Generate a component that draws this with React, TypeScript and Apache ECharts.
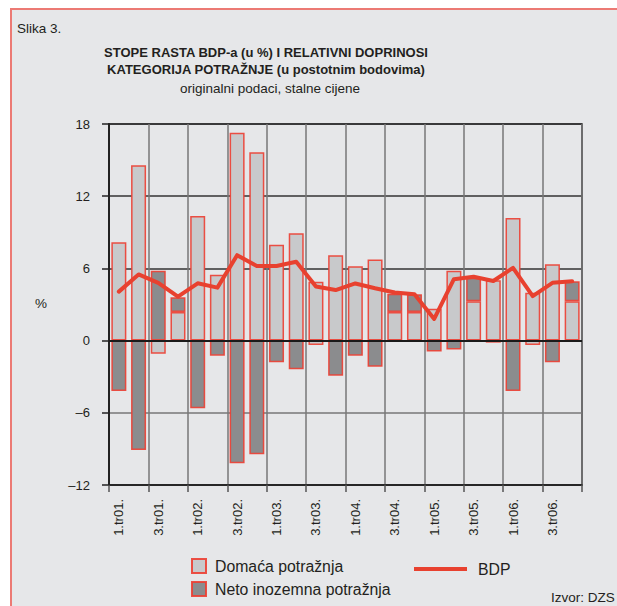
import React, { useEffect, useRef } from 'react';
import * as echarts from 'echarts';

const categories = [
  '1.tr01.', '2.tr01.', '3.tr01.', '4.tr01.',
  '1.tr02.', '2.tr02.', '3.tr02.', '4.tr02.',
  '1.tr03.', '2.tr03.', '3.tr03.', '4.tr03.',
  '1.tr04.', '2.tr04.', '3.tr04.', '4.tr04.',
  '1.tr05.', '2.tr05.', '3.tr05.', '4.tr05.',
  '1.tr06.', '2.tr06.', '3.tr06.', '4.tr06.',
];

const domesticDemand = [
  8.17, 14.57, -1.09, 2.38, 10.36, 5.48, 17.28, 15.65, 7.97, 8.92, 4.9, 7.09,
  6.17, 6.73, 2.38, 2.38, 2.65, 5.81, 3.27, 5.01, 10.19, 3.98, 6.34, 3.27,
];

const netForeignDemand = [
  -4.19, -9.1, 5.81, 1.22, -5.63, -1.25, -10.2, -9.45, -1.8, -2.39, -0.37, -2.92,
  -1.25, -2.17, 1.52, 1.47, -0.9, -0.73, 1.96, -0.17, -4.19, -0.37, -1.8, 1.66,
];

const gdp = [
  4.07, 5.5, 4.8, 3.65, 4.76, 4.4, 7.1, 6.2, 6.2, 6.55, 4.5, 4.2,
  4.75, 4.35, 4.0, 3.85, 1.8, 5.1, 5.3, 4.95, 6.05, 3.7, 4.8, 4.93,
];

const yMin = -12;
const yMax = 18;
const yStep = 6;

const FONT = '"Liberation Sans", Arial, Helvetica, sans-serif';
const TEXT = '#231f20';
const LIGHT = '#c8c9cb';
const DARK = '#8b8c8e';
const BORDER = 'rgba(236,62,50,0.9)';
const RED = '#e8412f';

export default function App() {
  const ref = useRef<HTMLDivElement>(null);

  useEffect(() => {
    if (!ref.current) return;
    const chart = echarts.init(ref.current, undefined, { renderer: 'svg' });

    const option: any = {
      animation: false,
      backgroundColor: '#ffffff',
      textStyle: { fontFamily: FONT },
      graphic: [
        {
          type: 'rect',
          z: -10,
          silent: true,
          shape: { x: 11, y: 9, width: 720, height: 720 },
          style: { fill: '#e6e7e9', stroke: '#ec7a74', lineWidth: 2 },
        },
        {
          type: 'text', x: 17, y: 28,
          style: { text: 'Slika 3.', fill: TEXT, font: `13.5px ${FONT}`, textVerticalAlign: 'middle' },
        },
        {
          type: 'text', x: 266, y: 52,
          style: { text: 'STOPE RASTA BDP-a (u %) I RELATIVNI DOPRINOSI', fill: TEXT, font: `bold 13px ${FONT}`, textAlign: 'center', textVerticalAlign: 'middle' },
        },
        {
          type: 'text', x: 266, y: 69,
          style: { text: 'KATEGORIJA POTRAŽNJE (u postotnim bodovima)', fill: TEXT, font: `bold 13px ${FONT}`, textAlign: 'center', textVerticalAlign: 'middle' },
        },
        {
          type: 'text', x: 270, y: 88,
          style: { text: 'originalni podaci, stalne cijene', fill: TEXT, font: `13.5px ${FONT}`, textAlign: 'center', textVerticalAlign: 'middle' },
        },
        {
          type: 'text', x: 41, y: 303,
          style: { text: '%', fill: TEXT, font: `13.5px ${FONT}`, textAlign: 'center', textVerticalAlign: 'middle' },
        },
        {
          type: 'text', x: 551, y: 597,
          style: { text: 'Izvor: DZS', fill: TEXT, font: `13.5px ${FONT}`, textVerticalAlign: 'middle' },
        },
      ],
      grid: {
        left: 109, top: 124, width: 473, height: 361,
        show: true, borderColor: '#222', borderWidth: 1.5, backgroundColor: 'transparent',
      },
      legend: [
        {
          data: [
            { name: 'Domaća potražnja', icon: 'rect' },
            { name: 'Neto inozemna potražnja', icon: 'rect' },
          ],
          orient: 'vertical', left: 186, top: 553,
          itemWidth: 14, itemHeight: 14, itemGap: 7,
          selectedMode: false,
          textStyle: { fontSize: 15.8, color: TEXT, fontFamily: FONT, padding: [0, 0, 0, 4] },
        },
        {
          data: [{ name: 'BDP', icon: 'rect' }],
          left: 409, top: 556,
          itemWidth: 53, itemHeight: 4,
          selectedMode: false,
          textStyle: { fontSize: 15.8, color: TEXT, fontFamily: FONT, padding: [0, 0, 0, 6] },
        },
      ],
      xAxis: {
        type: 'category',
        data: categories,
        position: 'bottom',
        boundaryGap: true,
        axisLine: { onZero: false, lineStyle: { color: '#222', width: 1.5 } },
        axisTick: { show: true, interval: 1, length: 7, lineStyle: { color: '#555', width: 1.5 } },
        axisLabel: { interval: 1, rotate: 90, margin: 14, fontSize: 13, color: TEXT, fontFamily: FONT },
        splitLine: { show: true, interval: 1, lineStyle: { color: '#777', width: 1.5 } },
      },
      yAxis: {
        type: 'value',
        min: yMin, max: yMax, interval: yStep,
        axisLine: { show: true, lineStyle: { color: '#222', width: 2 } },
        axisTick: { show: true, length: 7, lineStyle: { color: '#222', width: 1.5 } },
        axisLabel: {
          margin: 19, fontSize: 13, color: TEXT, fontFamily: FONT,
          formatter: (v: number) => String(v).replace('-', '–'),
        },
        splitLine: {
          show: true,
          lineStyle: { color: ['#333', '#777', '#222', '#333', '#333', '#333'], width: 1.5 },
        },
      },
      series: [
        {
          name: 'Domaća potražnja',
          type: 'bar',
          stack: 'total',
          barWidth: 15,
          data: domesticDemand,
          itemStyle: { color: LIGHT, borderColor: BORDER, borderWidth: 1.5 },
          z: 2,
        },
        {
          name: 'Neto inozemna potražnja',
          type: 'bar',
          stack: 'total',
          barWidth: 15,
          data: netForeignDemand.map((v) =>
            v < 0 && v > -0.5 ? { value: v, itemStyle: { color: LIGHT } } : v
          ),
          itemStyle: { color: DARK, borderColor: BORDER, borderWidth: 1.5 },
          z: 2,
        },
        {
          name: 'BDP',
          type: 'line',
          data: gdp,
          symbol: 'none',
          showSymbol: false,
          color: RED,
          lineStyle: { color: RED, width: 4, join: 'round', cap: 'round' },
          z: 5,
          markLine: {
            silent: true,
            symbol: ['none', 'none'],
            label: { show: false },
            lineStyle: { color: '#1a1a1a', width: 2, type: 'solid' },
            data: [{ yAxis: 0 }],
          },
        },
      ],
    };

    chart.setOption(option);
    return () => chart.dispose();
  }, []);

  return (
    <div
      ref={ref}
      style={{ position: 'fixed', left: 0, top: 0, width: 617, height: 606 }}
    />
  );
}
